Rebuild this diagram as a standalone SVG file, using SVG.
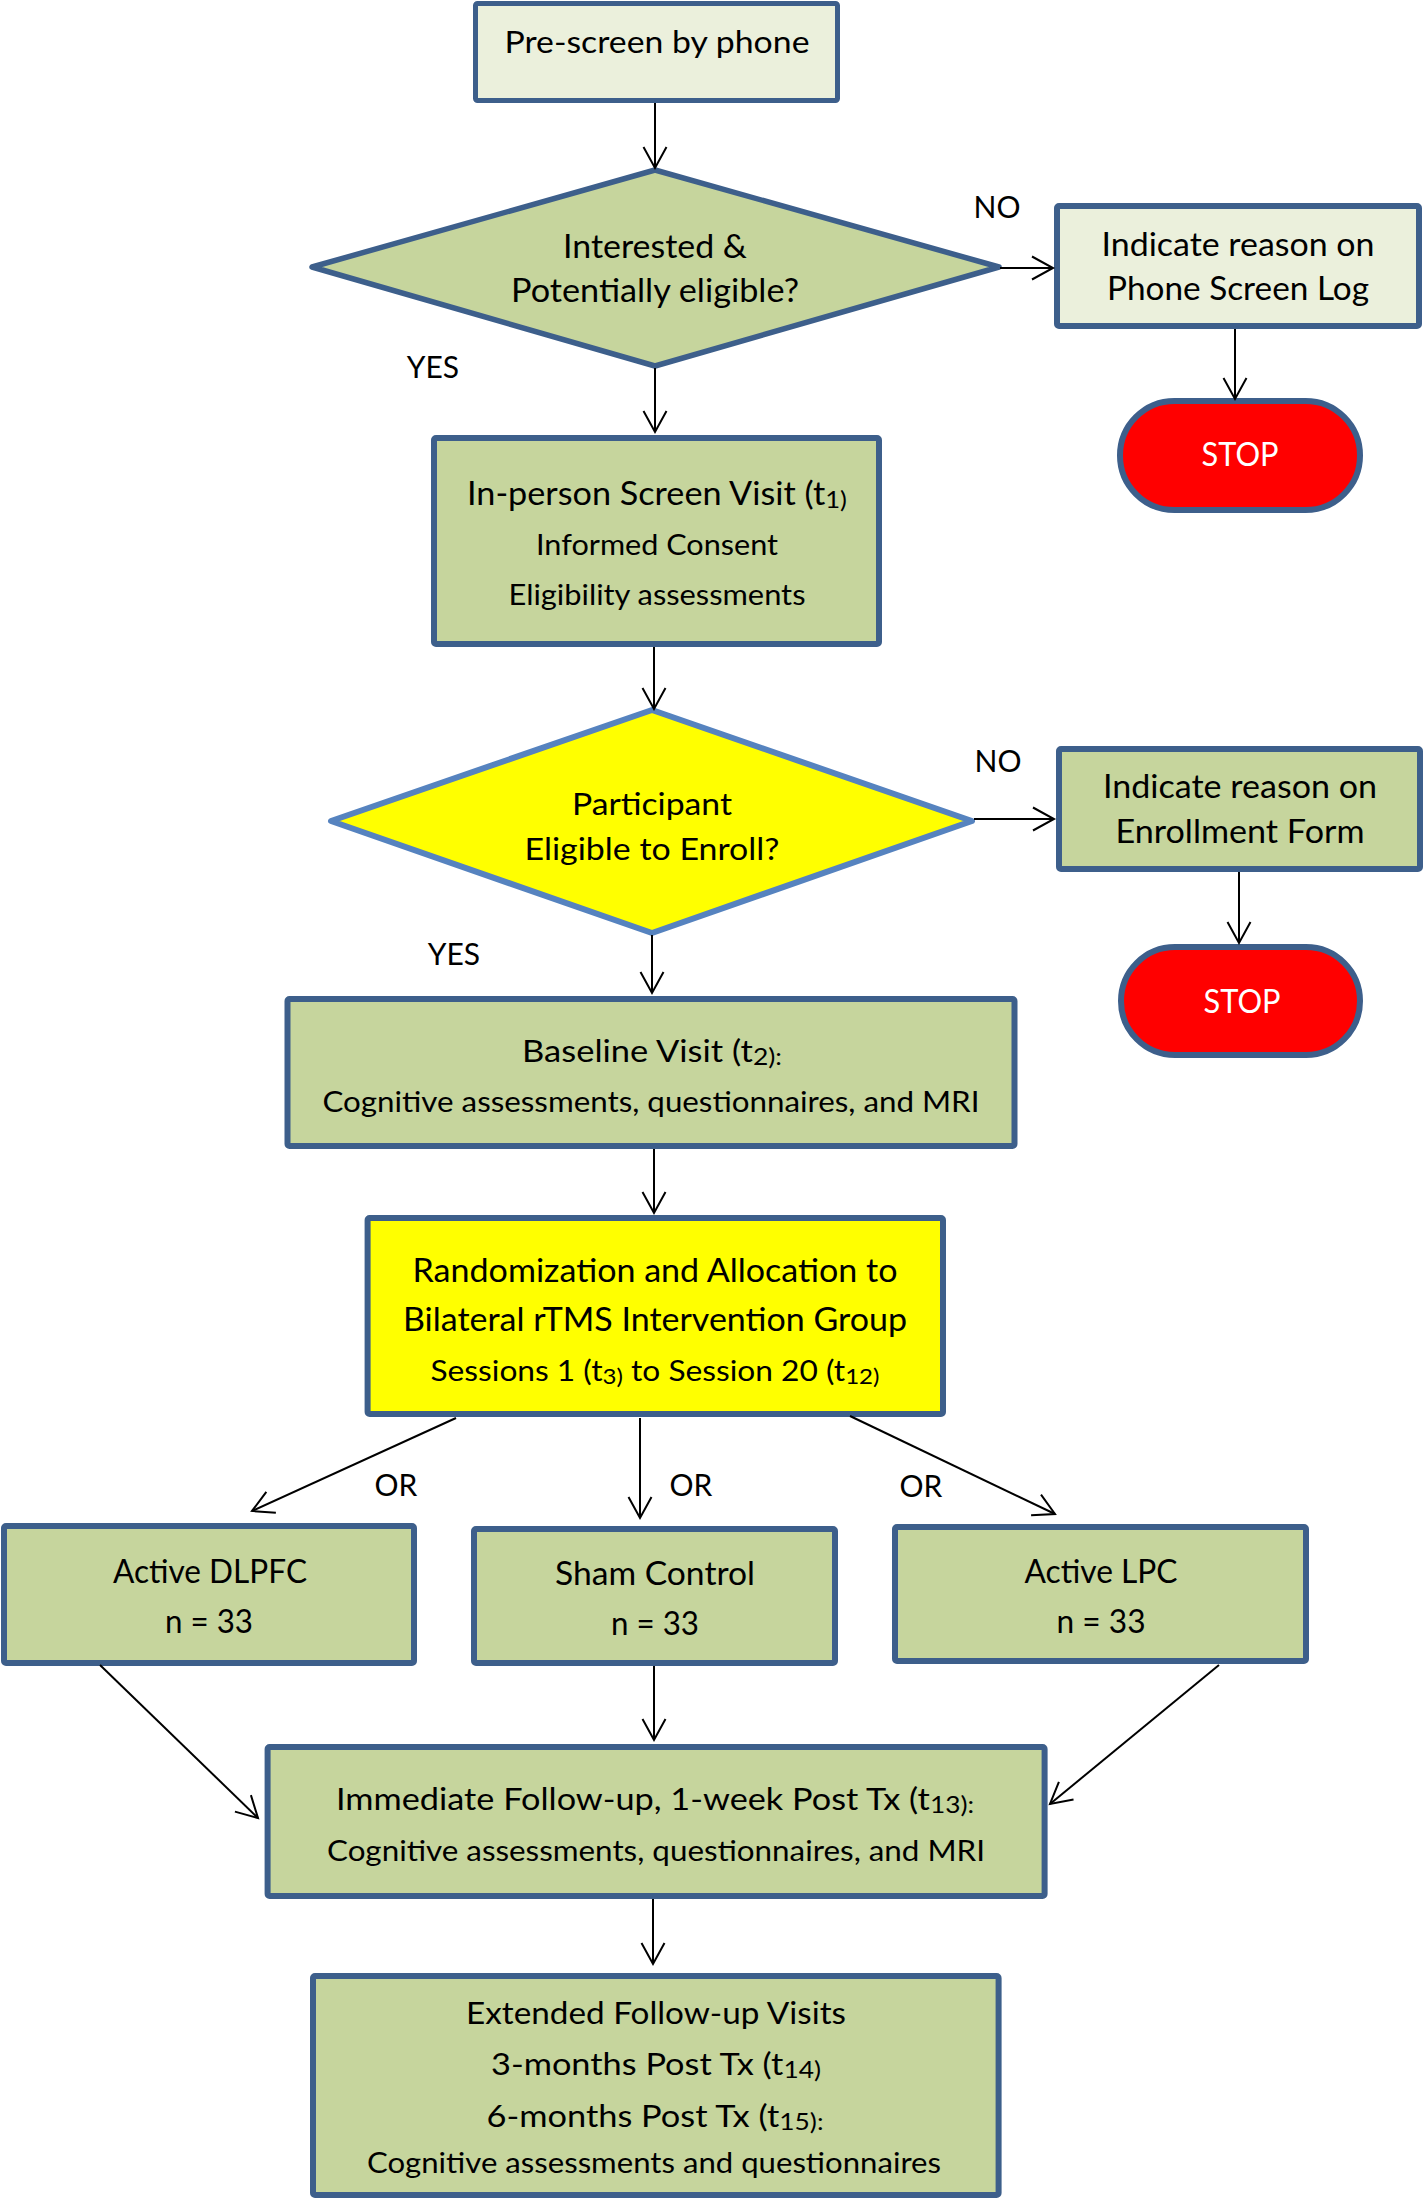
<svg xmlns="http://www.w3.org/2000/svg" width="1424" height="2199" viewBox="0 0 1424 2199">
<defs>
<marker id="arr" markerUnits="userSpaceOnUse" viewBox="0 0 24 26" markerWidth="24" markerHeight="26" refX="21" refY="13" orient="auto" overflow="visible">
<path d="M0,1.5 L21,13 L0,24.5" fill="none" stroke="#000" stroke-width="2"/>
</marker>
<style>
.box{stroke:#3d5f8b;stroke-width:6;stroke-linejoin:round}
.pale{fill:#ebf0dc}
.green{fill:#c6d59d}
.yel{fill:#ffff00}
.stop{fill:#ff0000;stroke:#3d5f8b;stroke-width:6}
.t{font-family:Lato,"Open Sans","Liberation Sans",sans-serif;fill:#000;text-anchor:middle}
.w{fill:#fff}
.c line{stroke:#000;stroke-width:2;marker-end:url(#arr)}
</style>
</defs>
<rect width="1424" height="2199" fill="#fff"/>

<g id="prescreen">
<rect class="box pale" x="475.5" y="3.5" width="362" height="97" rx="2" style="stroke-width:5"/>
<text class="t" x="657" y="53" font-size="31" textLength="305" lengthAdjust="spacingAndGlyphs">Pre-screen by phone</text>
</g>

<g id="decision1">
<polygon class="box green" points="655,170 999,267 655,366 312,267" style="stroke-width:5.5"/>
<text class="t" x="655" y="258" font-size="32" textLength="184" lengthAdjust="spacingAndGlyphs">Interested &amp;</text>
<text class="t" x="655" y="302" font-size="32" textLength="288" lengthAdjust="spacingAndGlyphs">Potentially eligible?</text>
</g>

<g id="phonelog">
<rect class="box pale" x="1057" y="206" width="362" height="120" rx="2"/>
<text class="t" x="1238" y="256" font-size="32" textLength="273" lengthAdjust="spacingAndGlyphs">Indicate reason on</text>
<text class="t" x="1238" y="300" font-size="32" textLength="262" lengthAdjust="spacingAndGlyphs">Phone Screen Log</text>
</g>

<g id="stop1">
<rect class="stop" x="1120" y="401" width="240" height="109" rx="54.5"/>
<text class="t w" x="1240" y="466" font-size="32" textLength="77" lengthAdjust="spacingAndGlyphs">STOP</text>
</g>

<g id="inperson">
<rect class="box green" x="434" y="438" width="445" height="206" rx="2"/>
<text class="t" x="657" y="505" font-size="32" textLength="380" lengthAdjust="spacingAndGlyphs">In-person Screen Visit (t<tspan font-size="24" dy="3">1)</tspan></text>
<text class="t" x="657" y="555" font-size="28" textLength="242" lengthAdjust="spacingAndGlyphs">Informed Consent</text>
<text class="t" x="657" y="605" font-size="28" textLength="297" lengthAdjust="spacingAndGlyphs">Eligibility assessments</text>
</g>

<g id="decision2">
<polygon class="yel" points="652,710 972,821 652,933 331,821" style="stroke:#5683bf;stroke-width:6;stroke-linejoin:round"/>
<text class="t" x="652" y="815" font-size="30" textLength="160" lengthAdjust="spacingAndGlyphs">Participant</text>
<text class="t" x="652" y="860" font-size="30" textLength="255" lengthAdjust="spacingAndGlyphs">Eligible to Enroll?</text>
</g>

<g id="enrollform">
<rect class="box green" x="1059" y="749" width="361" height="120" rx="2"/>
<text class="t" x="1240" y="798" font-size="32" textLength="274" lengthAdjust="spacingAndGlyphs">Indicate reason on</text>
<text class="t" x="1240" y="843" font-size="32" textLength="249" lengthAdjust="spacingAndGlyphs">Enrollment Form</text>
</g>

<g id="stop2">
<rect class="stop" x="1121" y="947" width="239" height="108" rx="54"/>
<text class="t w" x="1242" y="1013" font-size="32" textLength="77" lengthAdjust="spacingAndGlyphs">STOP</text>
</g>

<g id="baseline">
<rect class="box green" x="287.5" y="999" width="727" height="147" rx="2"/>
<text class="t" x="652" y="1062" font-size="30" textLength="260" lengthAdjust="spacingAndGlyphs">Baseline Visit (t<tspan font-size="23" dy="3">2):</tspan></text>
<text class="t" x="651" y="1112" font-size="28" textLength="657" lengthAdjust="spacingAndGlyphs">Cognitive assessments, questionnaires, and MRI</text>
</g>

<g id="randomization">
<rect class="box yel" x="367.6" y="1218" width="575.4" height="196" rx="2"/>
<text class="t" x="655" y="1282" font-size="32" textLength="485" lengthAdjust="spacingAndGlyphs">Randomization and Allocation to</text>
<text class="t" x="655" y="1331" font-size="32" textLength="504" lengthAdjust="spacingAndGlyphs">Bilateral rTMS Intervention Group</text>
<text class="t" x="655" y="1381" font-size="29" textLength="449" lengthAdjust="spacingAndGlyphs">Sessions 1 (t<tspan font-size="22" dy="3">3)</tspan><tspan dy="-3"> to Session 20 (t</tspan><tspan font-size="22" dy="3">12)</tspan></text>
</g>

<g id="dlpfc">
<rect class="box green" x="4" y="1526" width="410" height="137" rx="2"/>
<text class="t" x="210" y="1583" font-size="32" textLength="194" lengthAdjust="spacingAndGlyphs">Active DLPFC</text>
<text class="t" x="209" y="1633" font-size="32" textLength="88" lengthAdjust="spacingAndGlyphs">n = 33</text>
</g>

<g id="sham">
<rect class="box green" x="474" y="1529" width="361" height="134" rx="2"/>
<text class="t" x="655" y="1585" font-size="32" textLength="200" lengthAdjust="spacingAndGlyphs">Sham Control</text>
<text class="t" x="655" y="1635" font-size="32" textLength="88" lengthAdjust="spacingAndGlyphs">n = 33</text>
</g>

<g id="lpc">
<rect class="box green" x="895" y="1527" width="411" height="134" rx="2"/>
<text class="t" x="1101" y="1583" font-size="32" textLength="153" lengthAdjust="spacingAndGlyphs">Active LPC</text>
<text class="t" x="1101" y="1633" font-size="32" textLength="89" lengthAdjust="spacingAndGlyphs">n = 33</text>
</g>

<g id="immediate">
<rect class="box green" x="267.6" y="1747" width="777" height="149" rx="2"/>
<text class="t" x="655" y="1810" font-size="30" textLength="638" lengthAdjust="spacingAndGlyphs">Immediate Follow-up, 1-week Post Tx (t<tspan font-size="23" dy="3">13):</tspan></text>
<text class="t" x="656" y="1861" font-size="28" textLength="658" lengthAdjust="spacingAndGlyphs">Cognitive assessments, questionnaires, and MRI</text>
</g>

<g id="extended">
<rect class="box green" x="313" y="1976" width="685.6" height="219" rx="2"/>
<text class="t" x="656" y="2024" font-size="30" textLength="380" lengthAdjust="spacingAndGlyphs">Extended Follow-up Visits</text>
<text class="t" x="656" y="2075" font-size="30" textLength="330" lengthAdjust="spacingAndGlyphs">3-months Post Tx (t<tspan font-size="23" dy="3">14)</tspan></text>
<text class="t" x="655" y="2127" font-size="30" textLength="337" lengthAdjust="spacingAndGlyphs">6-months Post Tx (t<tspan font-size="23" dy="3">15):</tspan></text>
<text class="t" x="654" y="2173" font-size="28" textLength="574" lengthAdjust="spacingAndGlyphs">Cognitive assessments and questionnaires</text>
</g>

<g id="connectors" class="c">
<line x1="655" y1="103" x2="655" y2="168"/>
<line x1="1000" y1="268" x2="1053" y2="268"/>
<line x1="1235" y1="329" x2="1235" y2="399"/>
<line x1="655" y1="368" x2="655" y2="432"/>
<line x1="654" y1="647" x2="654" y2="709"/>
<line x1="974" y1="819" x2="1054" y2="819"/>
<line x1="1239" y1="872" x2="1239" y2="943"/>
<line x1="652" y1="935" x2="652" y2="993"/>
<line x1="654" y1="1149" x2="654" y2="1213"/>
<line x1="456" y1="1418" x2="252" y2="1511"/>
<line x1="640" y1="1418" x2="640" y2="1518"/>
<line x1="850" y1="1416" x2="1055" y2="1514"/>
<line x1="100" y1="1665" x2="258" y2="1818"/>
<line x1="654" y1="1666" x2="654" y2="1740"/>
<line x1="1219" y1="1665" x2="1050" y2="1804"/>
<line x1="653" y1="1899" x2="653" y2="1964"/>
</g>

<g id="labels">
<text class="t" x="997" y="218" font-size="30">NO</text>
<text class="t" x="433" y="378" font-size="30">YES</text>
<text class="t" x="998" y="772" font-size="30">NO</text>
<text class="t" x="454" y="965" font-size="30">YES</text>
<text class="t" x="396" y="1496" font-size="30">OR</text>
<text class="t" x="691" y="1496" font-size="30">OR</text>
<text class="t" x="921" y="1497" font-size="30">OR</text>
</g>
</svg>
